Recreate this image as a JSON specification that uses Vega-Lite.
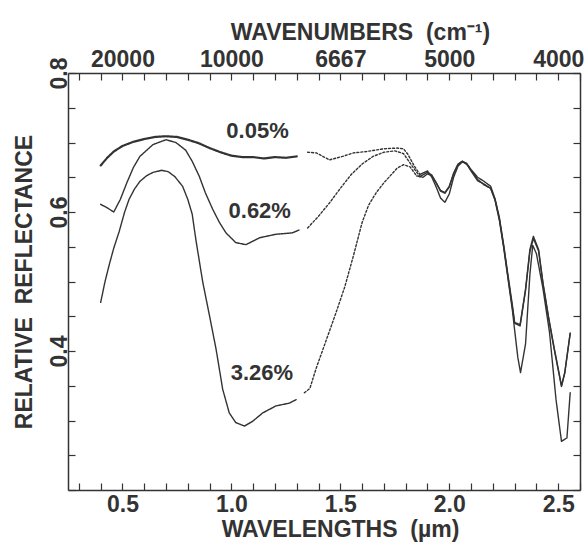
{
  "$schema": "https://vega.github.io/schema/vega-lite/v6.json",
  "width": 512,
  "height": 417,
  "autosize": {"type": "none"},
  "padding": {"left": 68, "top": 73, "right": 8, "bottom": 54},
  "background": "white",
  "config": {
    "view": {"stroke": null},
    "font": "Liberation Sans",
    "axis": {
      "labelFont": "Liberation Sans", "titleFont": "Liberation Sans",
      "labelFontWeight": "bold", "titleFontWeight": "bold",
      "labelColor": "#333", "titleColor": "#333",
      "domainColor": "#333", "tickColor": "#333",
      "domainWidth": 1.5, "tickWidth": 1.2,
      "labelFontSize": 23, "titleFontSize": 23,
      "grid": false, "labelOverlap": false, "labelFlush": false, "labelBound": false
    }
  },
  "datasets": {
    "spectra": [
      {"sample": "0.05%", "seg": "a", "wl": 0.40, "refl": 0.667},
      {"sample": "0.05%", "seg": "a", "wl": 0.43, "refl": 0.678},
      {"sample": "0.05%", "seg": "a", "wl": 0.46, "refl": 0.687},
      {"sample": "0.05%", "seg": "a", "wl": 0.50, "refl": 0.695},
      {"sample": "0.05%", "seg": "a", "wl": 0.55, "refl": 0.701},
      {"sample": "0.05%", "seg": "a", "wl": 0.60, "refl": 0.705},
      {"sample": "0.05%", "seg": "a", "wl": 0.65, "refl": 0.708},
      {"sample": "0.05%", "seg": "a", "wl": 0.70, "refl": 0.709},
      {"sample": "0.05%", "seg": "a", "wl": 0.75, "refl": 0.708},
      {"sample": "0.05%", "seg": "a", "wl": 0.80, "refl": 0.704},
      {"sample": "0.05%", "seg": "a", "wl": 0.85, "refl": 0.699},
      {"sample": "0.05%", "seg": "a", "wl": 0.90, "refl": 0.692},
      {"sample": "0.05%", "seg": "a", "wl": 0.95, "refl": 0.686},
      {"sample": "0.05%", "seg": "a", "wl": 1.00, "refl": 0.681},
      {"sample": "0.05%", "seg": "a", "wl": 1.05, "refl": 0.679},
      {"sample": "0.05%", "seg": "a", "wl": 1.10, "refl": 0.679},
      {"sample": "0.05%", "seg": "a", "wl": 1.15, "refl": 0.677},
      {"sample": "0.05%", "seg": "a", "wl": 1.20, "refl": 0.679},
      {"sample": "0.05%", "seg": "a", "wl": 1.25, "refl": 0.678},
      {"sample": "0.05%", "seg": "a", "wl": 1.30, "refl": 0.680},
      {"sample": "0.05%", "seg": "b", "wl": 1.35, "refl": 0.686},
      {"sample": "0.05%", "seg": "b", "wl": 1.39, "refl": 0.685},
      {"sample": "0.05%", "seg": "b", "wl": 1.45, "refl": 0.675},
      {"sample": "0.05%", "seg": "b", "wl": 1.51, "refl": 0.680},
      {"sample": "0.05%", "seg": "b", "wl": 1.56, "refl": 0.685},
      {"sample": "0.05%", "seg": "b", "wl": 1.62, "refl": 0.687},
      {"sample": "0.05%", "seg": "b", "wl": 1.70, "refl": 0.691},
      {"sample": "0.05%", "seg": "b", "wl": 1.76, "refl": 0.692},
      {"sample": "0.05%", "seg": "b", "wl": 1.79, "refl": 0.691},
      {"sample": "0.05%", "seg": "b", "wl": 1.81, "refl": 0.683},
      {"sample": "0.05%", "seg": "b", "wl": 1.84, "refl": 0.666},
      {"sample": "0.05%", "seg": "b", "wl": 1.865, "refl": 0.654},
      {"sample": "0.05%", "seg": "c", "wl": 1.865, "refl": 0.654},
      {"sample": "0.05%", "seg": "c", "wl": 1.90, "refl": 0.659},
      {"sample": "0.05%", "seg": "c", "wl": 1.92, "refl": 0.650},
      {"sample": "0.05%", "seg": "c", "wl": 1.94, "refl": 0.636},
      {"sample": "0.05%", "seg": "c", "wl": 1.96, "refl": 0.620},
      {"sample": "0.05%", "seg": "c", "wl": 1.98, "refl": 0.614},
      {"sample": "0.05%", "seg": "c", "wl": 2.00, "refl": 0.626},
      {"sample": "0.05%", "seg": "c", "wl": 2.02, "refl": 0.650},
      {"sample": "0.05%", "seg": "c", "wl": 2.04, "refl": 0.666},
      {"sample": "0.05%", "seg": "c", "wl": 2.06, "refl": 0.672},
      {"sample": "0.05%", "seg": "c", "wl": 2.08, "refl": 0.669},
      {"sample": "0.05%", "seg": "c", "wl": 2.10, "refl": 0.660},
      {"sample": "0.05%", "seg": "c", "wl": 2.13, "refl": 0.647},
      {"sample": "0.05%", "seg": "c", "wl": 2.16, "refl": 0.639},
      {"sample": "0.05%", "seg": "c", "wl": 2.19, "refl": 0.634},
      {"sample": "0.05%", "seg": "c", "wl": 2.21, "refl": 0.617},
      {"sample": "0.05%", "seg": "c", "wl": 2.23, "refl": 0.588},
      {"sample": "0.05%", "seg": "c", "wl": 2.25, "refl": 0.548},
      {"sample": "0.05%", "seg": "c", "wl": 2.27, "refl": 0.503},
      {"sample": "0.05%", "seg": "c", "wl": 2.29, "refl": 0.458},
      {"sample": "0.05%", "seg": "c", "wl": 2.30, "refl": 0.430},
      {"sample": "0.05%", "seg": "c", "wl": 2.315, "refl": 0.390},
      {"sample": "0.05%", "seg": "c", "wl": 2.327, "refl": 0.369},
      {"sample": "0.05%", "seg": "c", "wl": 2.35, "refl": 0.410},
      {"sample": "0.05%", "seg": "c", "wl": 2.37, "refl": 0.510},
      {"sample": "0.05%", "seg": "c", "wl": 2.383, "refl": 0.552},
      {"sample": "0.05%", "seg": "c", "wl": 2.40, "refl": 0.540},
      {"sample": "0.05%", "seg": "c", "wl": 2.43, "refl": 0.490},
      {"sample": "0.05%", "seg": "c", "wl": 2.46, "refl": 0.427},
      {"sample": "0.05%", "seg": "c", "wl": 2.49, "refl": 0.330},
      {"sample": "0.05%", "seg": "c", "wl": 2.515, "refl": 0.270},
      {"sample": "0.05%", "seg": "c", "wl": 2.54, "refl": 0.275},
      {"sample": "0.05%", "seg": "c", "wl": 2.555, "refl": 0.340},

      {"sample": "0.62%", "seg": "a", "wl": 0.40, "refl": 0.611},
      {"sample": "0.62%", "seg": "a", "wl": 0.43, "refl": 0.606},
      {"sample": "0.62%", "seg": "a", "wl": 0.46, "refl": 0.600},
      {"sample": "0.62%", "seg": "a", "wl": 0.49, "refl": 0.618},
      {"sample": "0.62%", "seg": "a", "wl": 0.52, "refl": 0.642},
      {"sample": "0.62%", "seg": "a", "wl": 0.55, "refl": 0.664},
      {"sample": "0.62%", "seg": "a", "wl": 0.58, "refl": 0.680},
      {"sample": "0.62%", "seg": "a", "wl": 0.64, "refl": 0.697},
      {"sample": "0.62%", "seg": "a", "wl": 0.70, "refl": 0.704},
      {"sample": "0.62%", "seg": "a", "wl": 0.745, "refl": 0.700},
      {"sample": "0.62%", "seg": "a", "wl": 0.79, "refl": 0.689},
      {"sample": "0.62%", "seg": "a", "wl": 0.82, "refl": 0.673},
      {"sample": "0.62%", "seg": "a", "wl": 0.853, "refl": 0.651},
      {"sample": "0.62%", "seg": "a", "wl": 0.88, "refl": 0.628},
      {"sample": "0.62%", "seg": "a", "wl": 0.914, "refl": 0.604},
      {"sample": "0.62%", "seg": "a", "wl": 0.945, "refl": 0.585},
      {"sample": "0.62%", "seg": "a", "wl": 0.975, "refl": 0.570},
      {"sample": "0.62%", "seg": "a", "wl": 1.02, "refl": 0.556},
      {"sample": "0.62%", "seg": "a", "wl": 1.067, "refl": 0.553},
      {"sample": "0.62%", "seg": "a", "wl": 1.13, "refl": 0.563},
      {"sample": "0.62%", "seg": "a", "wl": 1.205, "refl": 0.568},
      {"sample": "0.62%", "seg": "a", "wl": 1.28, "refl": 0.570},
      {"sample": "0.62%", "seg": "a", "wl": 1.31, "refl": 0.574},
      {"sample": "0.62%", "seg": "b", "wl": 1.35, "refl": 0.577},
      {"sample": "0.62%", "seg": "b", "wl": 1.40, "refl": 0.594},
      {"sample": "0.62%", "seg": "b", "wl": 1.45, "refl": 0.613},
      {"sample": "0.62%", "seg": "b", "wl": 1.50, "refl": 0.634},
      {"sample": "0.62%", "seg": "b", "wl": 1.55, "refl": 0.654},
      {"sample": "0.62%", "seg": "b", "wl": 1.60, "refl": 0.669},
      {"sample": "0.62%", "seg": "b", "wl": 1.65, "refl": 0.680},
      {"sample": "0.62%", "seg": "b", "wl": 1.70, "refl": 0.686},
      {"sample": "0.62%", "seg": "b", "wl": 1.75, "refl": 0.688},
      {"sample": "0.62%", "seg": "b", "wl": 1.79, "refl": 0.684},
      {"sample": "0.62%", "seg": "b", "wl": 1.83, "refl": 0.666},
      {"sample": "0.62%", "seg": "b", "wl": 1.865, "refl": 0.651},
      {"sample": "0.62%", "seg": "c", "wl": 1.865, "refl": 0.651},
      {"sample": "0.62%", "seg": "c", "wl": 1.90, "refl": 0.657},
      {"sample": "0.62%", "seg": "c", "wl": 1.92, "refl": 0.653},
      {"sample": "0.62%", "seg": "c", "wl": 1.94, "refl": 0.642},
      {"sample": "0.62%", "seg": "c", "wl": 1.96, "refl": 0.630},
      {"sample": "0.62%", "seg": "c", "wl": 1.98, "refl": 0.627},
      {"sample": "0.62%", "seg": "c", "wl": 2.00, "refl": 0.636},
      {"sample": "0.62%", "seg": "c", "wl": 2.02, "refl": 0.655},
      {"sample": "0.62%", "seg": "c", "wl": 2.04, "refl": 0.668},
      {"sample": "0.62%", "seg": "c", "wl": 2.06, "refl": 0.673},
      {"sample": "0.62%", "seg": "c", "wl": 2.08, "refl": 0.670},
      {"sample": "0.62%", "seg": "c", "wl": 2.10, "refl": 0.661},
      {"sample": "0.62%", "seg": "c", "wl": 2.13, "refl": 0.650},
      {"sample": "0.62%", "seg": "c", "wl": 2.16, "refl": 0.644},
      {"sample": "0.62%", "seg": "c", "wl": 2.19, "refl": 0.637},
      {"sample": "0.62%", "seg": "c", "wl": 2.21, "refl": 0.619},
      {"sample": "0.62%", "seg": "c", "wl": 2.23, "refl": 0.592},
      {"sample": "0.62%", "seg": "c", "wl": 2.25, "refl": 0.552},
      {"sample": "0.62%", "seg": "c", "wl": 2.27, "refl": 0.508},
      {"sample": "0.62%", "seg": "c", "wl": 2.29, "refl": 0.465},
      {"sample": "0.62%", "seg": "c", "wl": 2.30, "refl": 0.441},
      {"sample": "0.62%", "seg": "c", "wl": 2.325, "refl": 0.438},
      {"sample": "0.62%", "seg": "c", "wl": 2.35, "refl": 0.489},
      {"sample": "0.62%", "seg": "c", "wl": 2.37, "refl": 0.546},
      {"sample": "0.62%", "seg": "c", "wl": 2.386, "refl": 0.565},
      {"sample": "0.62%", "seg": "c", "wl": 2.41, "refl": 0.546},
      {"sample": "0.62%", "seg": "c", "wl": 2.43, "refl": 0.498},
      {"sample": "0.62%", "seg": "c", "wl": 2.455, "refl": 0.450},
      {"sample": "0.62%", "seg": "c", "wl": 2.48, "refl": 0.407},
      {"sample": "0.62%", "seg": "c", "wl": 2.515, "refl": 0.350},
      {"sample": "0.62%", "seg": "c", "wl": 2.53, "refl": 0.369},
      {"sample": "0.62%", "seg": "c", "wl": 2.555, "refl": 0.426},

      {"sample": "3.26%", "seg": "a", "wl": 0.40, "refl": 0.470},
      {"sample": "3.26%", "seg": "a", "wl": 0.42, "refl": 0.500},
      {"sample": "3.26%", "seg": "a", "wl": 0.44, "refl": 0.525},
      {"sample": "3.26%", "seg": "a", "wl": 0.46, "refl": 0.548},
      {"sample": "3.26%", "seg": "a", "wl": 0.485, "refl": 0.572},
      {"sample": "3.26%", "seg": "a", "wl": 0.51, "refl": 0.600},
      {"sample": "3.26%", "seg": "a", "wl": 0.53, "refl": 0.618},
      {"sample": "3.26%", "seg": "a", "wl": 0.555, "refl": 0.633},
      {"sample": "3.26%", "seg": "a", "wl": 0.58, "refl": 0.644},
      {"sample": "3.26%", "seg": "a", "wl": 0.61, "refl": 0.652},
      {"sample": "3.26%", "seg": "a", "wl": 0.64, "refl": 0.657},
      {"sample": "3.26%", "seg": "a", "wl": 0.68, "refl": 0.660},
      {"sample": "3.26%", "seg": "a", "wl": 0.71, "refl": 0.658},
      {"sample": "3.26%", "seg": "a", "wl": 0.74, "refl": 0.651},
      {"sample": "3.26%", "seg": "a", "wl": 0.776, "refl": 0.637},
      {"sample": "3.26%", "seg": "a", "wl": 0.80, "refl": 0.618},
      {"sample": "3.26%", "seg": "a", "wl": 0.82, "refl": 0.597},
      {"sample": "3.26%", "seg": "a", "wl": 0.837, "refl": 0.560},
      {"sample": "3.26%", "seg": "a", "wl": 0.868, "refl": 0.500},
      {"sample": "3.26%", "seg": "a", "wl": 0.90, "refl": 0.450},
      {"sample": "3.26%", "seg": "a", "wl": 0.93, "refl": 0.402},
      {"sample": "3.26%", "seg": "a", "wl": 0.96, "refl": 0.345},
      {"sample": "3.26%", "seg": "a", "wl": 0.99, "refl": 0.311},
      {"sample": "3.26%", "seg": "a", "wl": 1.02, "refl": 0.297},
      {"sample": "3.26%", "seg": "a", "wl": 1.06, "refl": 0.292},
      {"sample": "3.26%", "seg": "a", "wl": 1.098, "refl": 0.299},
      {"sample": "3.26%", "seg": "a", "wl": 1.144, "refl": 0.311},
      {"sample": "3.26%", "seg": "a", "wl": 1.205, "refl": 0.321},
      {"sample": "3.26%", "seg": "a", "wl": 1.266, "refl": 0.325},
      {"sample": "3.26%", "seg": "a", "wl": 1.297, "refl": 0.330},
      {"sample": "3.26%", "seg": "b", "wl": 1.335, "refl": 0.340},
      {"sample": "3.26%", "seg": "b", "wl": 1.36, "refl": 0.346},
      {"sample": "3.26%", "seg": "b", "wl": 1.39, "refl": 0.376},
      {"sample": "3.26%", "seg": "b", "wl": 1.43, "refl": 0.411},
      {"sample": "3.26%", "seg": "b", "wl": 1.48, "refl": 0.455},
      {"sample": "3.26%", "seg": "b", "wl": 1.52, "refl": 0.492},
      {"sample": "3.26%", "seg": "b", "wl": 1.56, "refl": 0.537},
      {"sample": "3.26%", "seg": "b", "wl": 1.60, "refl": 0.585},
      {"sample": "3.26%", "seg": "b", "wl": 1.63, "refl": 0.610},
      {"sample": "3.26%", "seg": "b", "wl": 1.665, "refl": 0.628},
      {"sample": "3.26%", "seg": "b", "wl": 1.70, "refl": 0.642},
      {"sample": "3.26%", "seg": "b", "wl": 1.726, "refl": 0.651},
      {"sample": "3.26%", "seg": "b", "wl": 1.76, "refl": 0.663},
      {"sample": "3.26%", "seg": "b", "wl": 1.79, "refl": 0.668},
      {"sample": "3.26%", "seg": "b", "wl": 1.82, "refl": 0.665},
      {"sample": "3.26%", "seg": "b", "wl": 1.85, "refl": 0.652},
      {"sample": "3.26%", "seg": "c", "wl": 1.85, "refl": 0.652},
      {"sample": "3.26%", "seg": "c", "wl": 1.88, "refl": 0.650},
      {"sample": "3.26%", "seg": "c", "wl": 1.90, "refl": 0.655},
      {"sample": "3.26%", "seg": "c", "wl": 1.92, "refl": 0.652},
      {"sample": "3.26%", "seg": "c", "wl": 1.94, "refl": 0.642},
      {"sample": "3.26%", "seg": "c", "wl": 1.96, "refl": 0.631},
      {"sample": "3.26%", "seg": "c", "wl": 1.98, "refl": 0.628},
      {"sample": "3.26%", "seg": "c", "wl": 2.00, "refl": 0.637},
      {"sample": "3.26%", "seg": "c", "wl": 2.02, "refl": 0.656},
      {"sample": "3.26%", "seg": "c", "wl": 2.04, "refl": 0.669},
      {"sample": "3.26%", "seg": "c", "wl": 2.06, "refl": 0.673},
      {"sample": "3.26%", "seg": "c", "wl": 2.08, "refl": 0.669},
      {"sample": "3.26%", "seg": "c", "wl": 2.10, "refl": 0.659},
      {"sample": "3.26%", "seg": "c", "wl": 2.13, "refl": 0.645},
      {"sample": "3.26%", "seg": "c", "wl": 2.16, "refl": 0.640},
      {"sample": "3.26%", "seg": "c", "wl": 2.19, "refl": 0.634},
      {"sample": "3.26%", "seg": "c", "wl": 2.21, "refl": 0.618},
      {"sample": "3.26%", "seg": "c", "wl": 2.23, "refl": 0.590},
      {"sample": "3.26%", "seg": "c", "wl": 2.25, "refl": 0.550},
      {"sample": "3.26%", "seg": "c", "wl": 2.27, "refl": 0.505},
      {"sample": "3.26%", "seg": "c", "wl": 2.29, "refl": 0.462},
      {"sample": "3.26%", "seg": "c", "wl": 2.30, "refl": 0.440},
      {"sample": "3.26%", "seg": "c", "wl": 2.325, "refl": 0.436},
      {"sample": "3.26%", "seg": "c", "wl": 2.35, "refl": 0.487},
      {"sample": "3.26%", "seg": "c", "wl": 2.37, "refl": 0.543},
      {"sample": "3.26%", "seg": "c", "wl": 2.386, "refl": 0.562},
      {"sample": "3.26%", "seg": "c", "wl": 2.41, "refl": 0.544},
      {"sample": "3.26%", "seg": "c", "wl": 2.43, "refl": 0.497},
      {"sample": "3.26%", "seg": "c", "wl": 2.455, "refl": 0.449},
      {"sample": "3.26%", "seg": "c", "wl": 2.48, "refl": 0.405},
      {"sample": "3.26%", "seg": "c", "wl": 2.515, "refl": 0.349},
      {"sample": "3.26%", "seg": "c", "wl": 2.53, "refl": 0.368},
      {"sample": "3.26%", "seg": "c", "wl": 2.555, "refl": 0.425}
    ],
    "labels": [
      {"label": "0.05%", "wl": 1.12, "refl": 0.717},
      {"label": "0.62%", "wl": 1.13, "refl": 0.602},
      {"label": "3.26%", "wl": 1.14, "refl": 0.368}
    ]
  },
  "layer": [
    {
      "data": {"name": "spectra"},
      "mark": {"type": "line", "color": "#333", "strokeCap": "round", "strokeJoin": "round"},
      "encoding": {
        "x": {
          "field": "wl", "type": "quantitative",
          "scale": {"domain": [0.25, 2.6], "nice": false, "zero": false},
          "axis": {
            "orient": "bottom",
            "title": "WAVELENGTHS\u00a0\u00a0(µm)",
            "values": [0.3,0.4,0.5,0.6,0.7,0.8,0.9,1.0,1.1,1.2,1.3,1.4,1.5,1.6,1.7,1.8,1.9,2.0,2.1,2.2,2.3,2.4,2.5,2.6],
            "labelExpr": "abs(datum.value*2 - round(datum.value*2)) < 0.001 ? format(datum.value, '.1f') : ''",
            "tickSize": -7,
            "labelPadding": 10,
            "titlePadding": 2,
            "titleX": 272
          }
        },
        "y": {
          "field": "refl", "type": "quantitative",
          "scale": {"domain": [0.2, 0.8], "nice": false, "zero": false},
          "axis": {
            "orient": "left",
            "title": "RELATIVE\u00a0\u00a0REFLECTANCE",
            "values": [0.2,0.25,0.3,0.35,0.4,0.45,0.5,0.55,0.6,0.65,0.7,0.75,0.8],
            "labelExpr": "(abs(datum.value - 0.4) < 0.001 || abs(datum.value - 0.6) < 0.001 || abs(datum.value - 0.8) < 0.001) ? format(datum.value, '.1f') : ''",
            "tickSize": -7,
            "labelAngle": 270,
            "labelAlign": "center",
            "labelBaseline": "alphabetic",
            "labelPadding": 9,
            "titlePadding": 12
          }
        },
        "detail": [{"field": "sample"}, {"field": "seg"}],
        "order": {"field": "wl", "type": "quantitative"},
        "strokeDash": {
          "field": "seg", "type": "nominal",
          "scale": {"domain": ["a", "b", "c"], "range": [[1, 0], [2, 2], [1, 0]]},
          "legend": null
        },
        "strokeWidth": {
          "condition": {"test": "datum.sample == '0.05%' && datum.seg == 'a'", "value": 2.2},
          "value": 1.4
        }
      }
    },
    {
      "data": {"name": "labels"},
      "mark": {"type": "text", "font": "Liberation Sans", "fontSize": 22, "fontWeight": "bold", "color": "#333", "align": "center", "baseline": "middle"},
      "encoding": {
        "x": {
          "field": "wl", "type": "quantitative",
          "axis": {
            "orient": "top",
            "title": "WAVENUMBERS\u00a0\u00a0(cm⁻¹)",
            "values": [0.3,0.4,0.5,0.6,0.7,0.8,0.9,1.0,1.1,1.2,1.3,1.4,1.5,1.6,1.7,1.8,1.9,2.0,2.1,2.2,2.3,2.4,2.5,2.6],
            "labelExpr": "abs(datum.value*2 - round(datum.value*2)) < 0.001 ? format(round(10000/datum.value), 'd') : ''",
            "tickSize": -7,
            "labelPadding": 9,
            "titlePadding": 4,
            "titleX": 292
          }
        },
        "y": {
          "field": "refl", "type": "quantitative",
          "axis": {
            "orient": "right",
            "title": null,
            "labels": false,
            "values": [0.2,0.25,0.3,0.35,0.4,0.45,0.5,0.55,0.6,0.65,0.7,0.75,0.8],
            "tickSize": -7
          }
        },
        "text": {"field": "label"}
      }
    }
  ],
  "resolve": {"scale": {"x": "shared", "y": "shared"}, "axis": {"x": "independent", "y": "independent"}}
}
